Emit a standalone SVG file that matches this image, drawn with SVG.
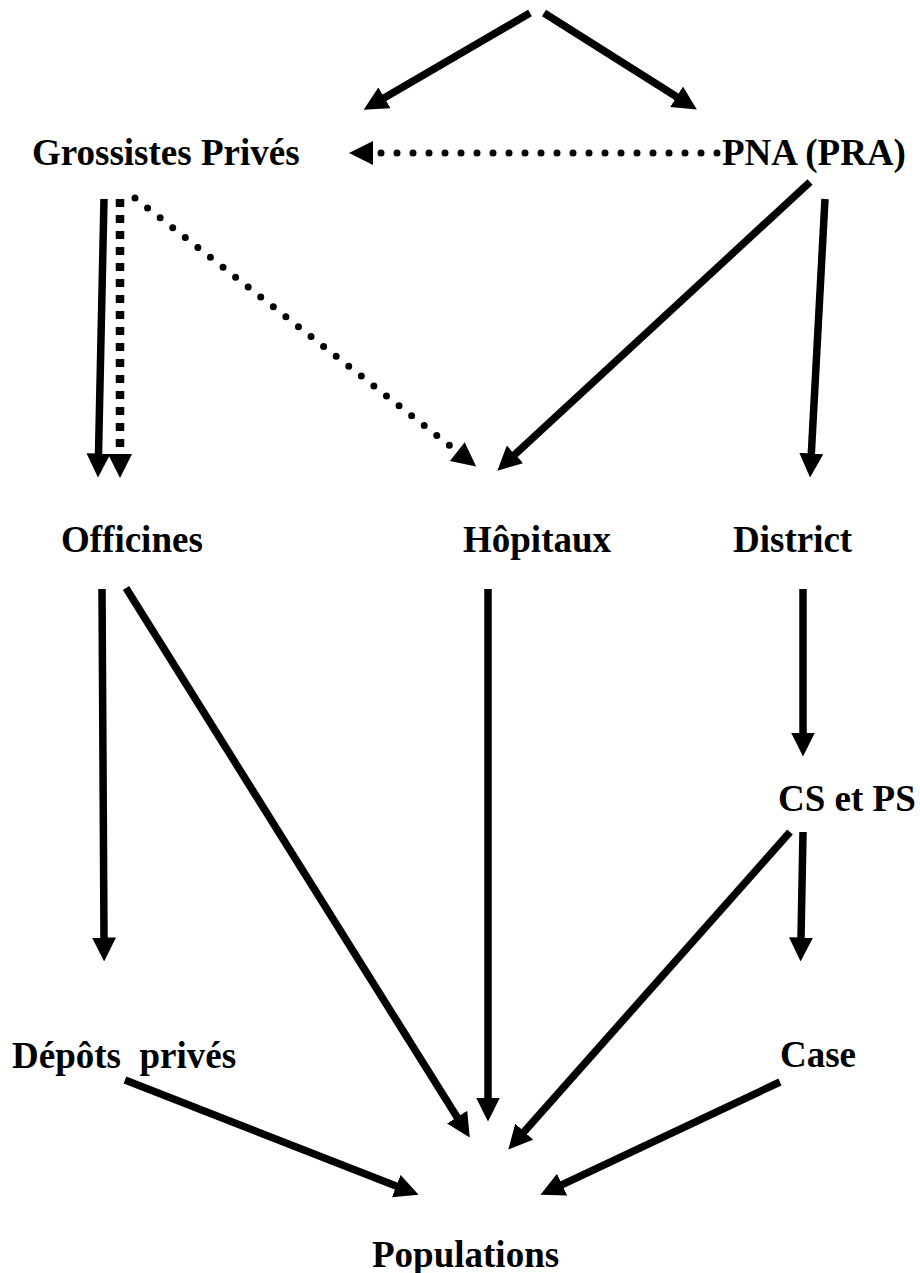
<svg xmlns="http://www.w3.org/2000/svg" width="920" height="1273" viewBox="0 0 920 1273">
  <style>
    .lbl { font-family: "Liberation Serif", "Times New Roman", serif; font-weight: bold; font-size: 37px; fill: #000; white-space: pre; }
    .solid { stroke: #000; stroke-width: 7.5; fill: none; }
    .dots { stroke: #000; stroke-width: 7; stroke-linecap: round; stroke-dasharray: 0 16; fill: none; }
    .squares { stroke: #000; stroke-width: 8.5; stroke-dasharray: 8 8; fill: none; }
  </style>
  <defs>
    <marker id="ah" viewBox="0 0 24 24" markerUnits="userSpaceOnUse" markerWidth="24" markerHeight="24" refX="0.5" refY="12" orient="auto">
      <path d="M0,0 L24,12 L0,24 z" fill="#000"/>
    </marker>
    <marker id="ahd" viewBox="-8 0 32 24" markerUnits="userSpaceOnUse" markerWidth="32" markerHeight="24" refX="-7" refY="12" orient="auto">
      <path d="M0,0 L24,12 L0,24 z" fill="#000"/>
    </marker>
  </defs>
  <rect width="920" height="1273" fill="#fff"/>

  <g id="connectors">
    <line class="solid" x1="530" y1="13" x2="384" y2="98" marker-end="url(#ah)"/>
    <line class="solid" x1="544" y1="13" x2="677" y2="97" marker-end="url(#ah)"/>
    <line class="dots" x1="717" y1="153" x2="380" y2="153" marker-end="url(#ahd)"/>
    <line class="solid" x1="104" y1="199" x2="98.5" y2="454" marker-end="url(#ah)"/>
    <line class="squares" x1="120" y1="199" x2="120" y2="447" marker-end="url(#ahd)"/>
    <line class="dots" x1="135" y1="198" x2="451.8" y2="447.3" marker-end="url(#ahd)"/>
    <line class="solid" x1="810" y1="182" x2="514.6" y2="454.7" marker-end="url(#ah)"/>
    <line class="solid" x1="825" y1="199" x2="811.3" y2="454" marker-end="url(#ah)"/>
    <line class="solid" x1="102" y1="589" x2="104" y2="938" marker-end="url(#ah)"/>
    <line class="solid" x1="126" y1="588" x2="457.3" y2="1117.6" marker-end="url(#ah)"/>
    <line class="solid" x1="488" y1="589" x2="488" y2="1098" marker-end="url(#ah)"/>
    <line class="solid" x1="803" y1="589" x2="803" y2="733" marker-end="url(#ah)"/>
    <line class="solid" x1="790" y1="832" x2="523.9" y2="1132" marker-end="url(#ah)"/>
    <line class="solid" x1="803" y1="832" x2="801" y2="938" marker-end="url(#ah)"/>
    <line class="solid" x1="125" y1="1080" x2="396.7" y2="1186.3" marker-end="url(#ah)"/>
    <line class="solid" x1="780" y1="1082" x2="561.7" y2="1184.8" marker-end="url(#ah)"/>
  </g>

  <g id="node-grossistes"><text class="lbl" x="32" y="165">Grossistes Privés</text></g>
  <g id="node-pna"><text class="lbl" x="722" y="165">PNA (PRA)</text></g>
  <g id="node-officines"><text class="lbl" x="61" y="552">Officines</text></g>
  <g id="node-hopitaux"><text class="lbl" x="463" y="552">Hôpitaux</text></g>
  <g id="node-district"><text class="lbl" x="733" y="552">District</text></g>
  <g id="node-cs"><text class="lbl" x="778" y="811">CS et PS</text></g>
  <g id="node-depots"><text class="lbl" x="12" y="1068">Dépôts  privés</text></g>
  <g id="node-case"><text class="lbl" x="780" y="1067">Case</text></g>
  <g id="node-populations"><text class="lbl" x="372" y="1267">Populations</text></g>
</svg>
